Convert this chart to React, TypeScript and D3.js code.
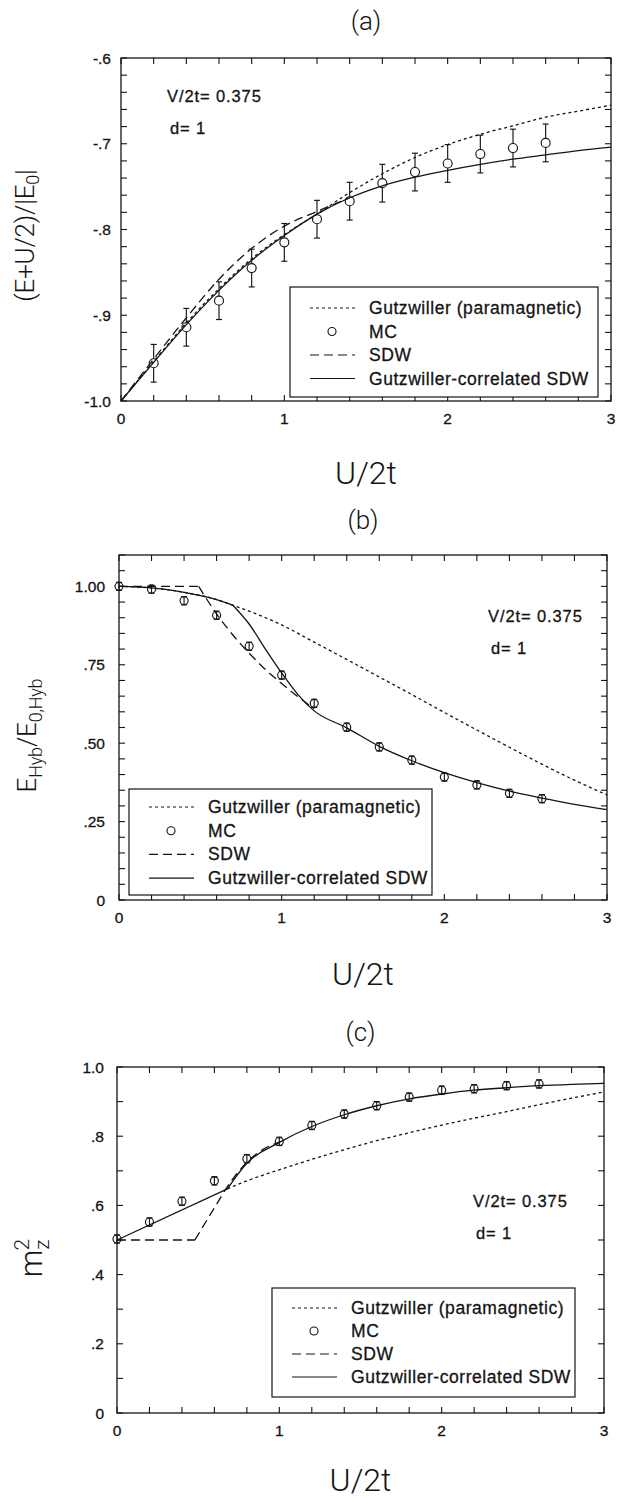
import React from "react";
import * as d3 from "d3";

// ---------------- data ----------------
const xTickValues = [0, 1, 2, 3];
const xTickLabels = ["0", "1", "2", "3"];
const legendLabels = ["Gutzwiller (paramagnetic)", "MC", "SDW", "Gutzwiller-correlated SDW"];
const paramText = "V/2t= 0.375";
const dimText = "d= 1";

// panel (a): (E+U/2)/|E0|
const uA = [0, 0.2, 0.4, 0.6, 0.8, 1.0, 1.2, 1.4, 1.6, 1.8, 2.0, 2.2, 2.4, 2.6, 2.8, 3.0];
const gutzA = [-1.0, -0.954, -0.909, -0.869, -0.834, -0.806, -0.782, -0.757, -0.735, -0.716, -0.701, -0.689, -0.679, -0.669, -0.662, -0.655];
const corrA = [-1.0, -0.955, -0.911, -0.871, -0.836, -0.807, -0.782, -0.763, -0.749, -0.739, -0.731, -0.724, -0.718, -0.713, -0.708, -0.704];
const sdwAU = [0, 0.2, 0.4, 0.6, 0.8, 1.0, 1.2, 1.4];
const sdwA = [-1.0, -0.951, -0.903, -0.858, -0.822, -0.796, -0.779, -0.763];
const mcAU = [0.2, 0.4, 0.6, 0.8, 1.0, 1.2, 1.4, 1.6, 1.8, 2.0, 2.2, 2.4, 2.6];
const mcA = [-0.956, -0.914, -0.883, -0.845, -0.815, -0.788, -0.767, -0.746, -0.733, -0.723, -0.712, -0.705, -0.699];
const mcAErr = [0.022, 0.022, 0.022, 0.022, 0.022, 0.022, 0.022, 0.022, 0.022, 0.022, 0.022, 0.022, 0.022];
const yTicksA = [-1.0, -0.9, -0.8, -0.7, -0.6];
const yLabelsA = ["-1.0", "-.9", "-.8", "-.7", "-.6"];

// panel (b): E_Hyb / E_0,Hyb
const gutzBU = [0, 0.2, 0.4, 0.6, 0.7, 0.8, 1.0, 1.2, 1.4, 1.6, 1.8, 2.0, 2.2, 2.4, 2.6, 2.8, 3.0];
const gutzB = [1.0, 0.995, 0.981, 0.958, 0.94, 0.921, 0.877, 0.822, 0.767, 0.711, 0.655, 0.598, 0.542, 0.487, 0.433, 0.382, 0.335];
const corrBU1 = [0, 0.2, 0.4, 0.6, 0.7];
const corrB1 = [1.0, 0.995, 0.981, 0.958, 0.94];
const corrBU2 = [0.7, 0.8, 0.9, 1.0, 1.1, 1.2, 1.4, 1.6, 1.8, 2.0, 2.2, 2.4, 2.6, 2.8, 3.0];
const corrB2 = [0.94, 0.88, 0.8, 0.724, 0.655, 0.603, 0.549, 0.49, 0.444, 0.406, 0.374, 0.347, 0.325, 0.305, 0.288];
const sdwBU1 = [0, 0.49];
const sdwB1 = [1.0, 1.0];
const sdwBU2 = [0.49, 0.6, 0.7, 0.8, 0.9, 1.0, 1.1, 1.2];
const sdwB2 = [1.0, 0.912, 0.845, 0.787, 0.735, 0.69, 0.648, 0.61];
const mcBU = [0, 0.2, 0.4, 0.6, 0.8, 1.0, 1.2, 1.4, 1.6, 1.8, 2.0, 2.2, 2.4, 2.6];
const mcB = [1.0, 0.991, 0.954, 0.908, 0.809, 0.717, 0.627, 0.551, 0.488, 0.446, 0.392, 0.367, 0.34, 0.323];
const mcBErr = [0.013, 0.013, 0.013, 0.013, 0.013, 0.013, 0.013, 0.013, 0.013, 0.013, 0.013, 0.013, 0.013, 0.013];
const yTicksB = [0, 0.25, 0.5, 0.75, 1.0];
const yLabelsB = ["0", ".25", ".50", ".75", "1.00"];

// panel (c): m_z^2
const corrCU1 = [0, 0.68];
const corrC1 = [0.5, 0.648];
const corrCU2 = [0.68, 0.8, 1.0, 1.2, 1.4, 1.6, 1.8, 2.0, 2.2, 2.4, 2.6, 2.8, 3.0];
const corrC2 = [0.648, 0.722, 0.782, 0.828, 0.862, 0.888, 0.908, 0.922, 0.933, 0.94, 0.946, 0.95, 0.953];
const gutzCU2 = [0.68, 0.8, 1.0, 1.2, 1.4, 1.6, 1.8, 2.0, 2.2, 2.4, 2.6, 2.8, 3.0];
const gutzC2 = [0.648, 0.671, 0.703, 0.733, 0.761, 0.787, 0.81, 0.832, 0.852, 0.871, 0.891, 0.91, 0.928];
const sdwCU1 = [0, 0.48];
const sdwC1 = [0.5, 0.5];
const sdwCU2 = [0.48, 0.6, 0.7, 0.8, 0.9, 1.0];
const sdwC2 = [0.5, 0.593, 0.668, 0.725, 0.762, 0.783];
const mcCU = [0, 0.2, 0.4, 0.6, 0.8, 1.0, 1.2, 1.4, 1.6, 1.8, 2.0, 2.2, 2.4, 2.6];
const mcC = [0.503, 0.552, 0.612, 0.671, 0.735, 0.785, 0.831, 0.864, 0.888, 0.913, 0.933, 0.937, 0.946, 0.951];
const mcCErr = [0.012, 0.012, 0.012, 0.012, 0.012, 0.012, 0.012, 0.012, 0.012, 0.012, 0.012, 0.012, 0.012, 0.012];
const yTicksC = [0, 0.2, 0.4, 0.6, 0.8, 1.0];
const yLabelsC = ["0", ".2", ".4", ".6", ".8", "1.0"];

// ---------------- layout ----------------
const W = 617;
const H = 1498;
const LABEL_FONT = "'Liberation Sans', Arial, Helvetica, sans-serif";
const TITLE_FONT = "Roboto, 'DejaVu Sans', sans-serif";
const INK = "#141414";

type Seg = { u: number[]; v: number[] };
type Series = { kind: "dot" | "dash" | "solid"; segs: Seg[] };

const dashOf = (k: string) => (k === "dot" ? "3,3" : k === "dash" ? "9,5" : undefined);

const labelText = { fontFamily: LABEL_FONT, fill: INK, stroke: INK, strokeWidth: 0.3 } as any;

function Panel(props: any) {
  const { L, yDomain, yStep, yTicks, yLabels, series, mcU, mcV, mcErr, mcR, title, yTitle } = props;
  const x = d3.scaleLinear().domain([0, 3]).range([L.left, L.right]);
  const y = d3.scaleLinear().domain(yDomain).range([L.bottom, L.top]);
  const gen = d3
    .line<[number, number]>()
    .x((d) => x(d[0]))
    .y((d) => y(d[1]))
    .curve(d3.curveMonotoneX);
  const xMinor = d3.range(0, 3.0001, 0.2);
  const yMinor = d3.range(yDomain[0], yDomain[1] + 1e-6, yStep);
  const tl = 6;
  const cx = (L.left + L.right) / 2;

  const legendKinds = ["dot", "mc", "dash", "solid"];

  return (
    <g>
      <text x={cx} y={L.titleY} textAnchor="middle" fontFamily={TITLE_FONT} fontWeight={300} fontSize={26} fill={INK}>
        {title}
      </text>
      <rect x={L.left} y={L.top} width={L.right - L.left} height={L.bottom - L.top} fill="none" stroke={INK} strokeWidth={1.3} />
      {xMinor.map((t, i) => (
        <g key={"xt" + i}>
          <line x1={x(t)} x2={x(t)} y1={L.bottom} y2={L.bottom - tl} stroke={INK} strokeWidth={1.1} />
          <line x1={x(t)} x2={x(t)} y1={L.top} y2={L.top + tl} stroke={INK} strokeWidth={1.1} />
        </g>
      ))}
      {yMinor.map((t, i) => (
        <g key={"yt" + i}>
          <line x1={L.left} x2={L.left + tl} y1={y(t)} y2={y(t)} stroke={INK} strokeWidth={1.1} />
          <line x1={L.right} x2={L.right - tl} y1={y(t)} y2={y(t)} stroke={INK} strokeWidth={1.1} />
        </g>
      ))}
      {xTickValues.map((t, i) => (
        <text key={"xl" + i} x={x(t)} y={L.bottom + 23} textAnchor="middle" fontSize={15.5} {...labelText}>
          {xTickLabels[i]}
        </text>
      ))}
      {yTicks.map((t: number, i: number) => (
        <text key={"yl" + i} x={L.left - L.ylGap} y={y(t) + 5.5} textAnchor="end" fontSize={15.5} {...labelText}>
          {yLabels[i]}
        </text>
      ))}
      <text x={cx} y={L.xTitleY} textAnchor="middle" fontFamily={TITLE_FONT} fontWeight={300} fontSize={32} fill={INK}>
        U/2t
      </text>
      <g transform={`translate(${L.yTitleX},${(L.top + L.bottom) / 2 + L.yTitleShift}) rotate(-90)`}>{yTitle}</g>

      {(series as Series[]).map((s, i) =>
        s.segs.map((sg, j) => (
          <path
            key={"s" + i + "_" + j}
            d={gen(sg.u.map((u, k) => [u, sg.v[k]] as [number, number])) || ""}
            fill="none"
            stroke={INK}
            strokeWidth={1.3}
            strokeDasharray={dashOf(s.kind)}
          />
        ))
      )}

      {mcU.map((u: number, i: number) => {
        const px = x(u);
        const py = y(mcV[i]);
        const y1 = y(mcV[i] + mcErr[i]);
        const y2 = y(mcV[i] - mcErr[i]);
        const cw = 3;
        return (
          <g key={"mc" + i} stroke={INK} strokeWidth={1.15} fill="none">
            <line x1={px} x2={px} y1={y1} y2={py - mcR} />
            <line x1={px} x2={px} y1={py + mcR} y2={y2} />
            {L.innerBar ? <line x1={px} x2={px} y1={py - mcR} y2={py + mcR} /> : null}
            <line x1={px - cw} x2={px + cw} y1={y1} y2={y1} />
            <line x1={px - cw} x2={px + cw} y1={y2} y2={y2} />
            <circle cx={px} cy={py} r={mcR} fill="none" />
          </g>
        );
      })}

      <text x={L.annX} y={L.annY} fontSize={16.5} letterSpacing={0.9} {...labelText}>
        {paramText}
      </text>
      <text x={L.annX + 3} y={L.annY + 32} fontSize={16.5} letterSpacing={0.9} {...labelText}>
        {dimText}
      </text>

      <rect x={L.lgX} y={L.lgY} width={L.lgW} height={L.lgH} fill="white" stroke={INK} strokeWidth={1.2} />
      {legendLabels.map((lab, i) => {
        const ry = L.lgY + L.lgRow0 + i * L.lgDy;
        const sx = L.lgX + 20;
        const kind = legendKinds[i];
        return (
          <g key={"lg" + i}>
            {kind === "mc" ? (
              <circle cx={sx + 22} cy={ry} r={4} fill="none" stroke={INK} strokeWidth={1.1} />
            ) : (
              <line x1={sx} x2={sx + 45} y1={ry} y2={ry} stroke={INK} strokeWidth={1.2} strokeDasharray={dashOf(kind)} />
            )}
            <text x={L.lgX + 79} y={ry + 6} fontSize={17.5} letterSpacing={0.55} {...labelText}>
              {lab}
            </text>
          </g>
        );
      })}
    </g>
  );
}

const zip = (u: number[], v: number[]): Seg => ({ u, v });

export default function App() {
  const LA = {
    left: 121, right: 611, top: 58, bottom: 401, titleY: 30, xTitleY: 484, yTitleX: 34, yTitleShift: 6, ylGap: 10,
    annX: 167, annY: 102, lgX: 290, lgY: 287, lgW: 308, lgH: 110, lgRow0: 21, lgDy: 23.5, innerBar: false,
  };
  const LB = {
    left: 119, right: 607, top: 555, bottom: 900, titleY: 529, xTitleY: 985, yTitleX: 36, yTitleShift: 8, ylGap: 14,
    annX: 488, annY: 622, lgX: 129, lgY: 789, lgW: 303, lgH: 106, lgRow0: 18, lgDy: 23.7, innerBar: true,
  };
  const LC = {
    left: 117, right: 604, top: 1067, bottom: 1413, titleY: 1041, xTitleY: 1491, yTitleX: 42, yTitleShift: 18, ylGap: 13,
    annX: 473, annY: 1207, lgX: 272, lgY: 1288, lgW: 303, lgH: 109, lgRow0: 20, lgDy: 23,
    innerBar: true,
  };

  const seriesA: Series[] = [
    { kind: "dot", segs: [zip(uA, gutzA)] },
    { kind: "dash", segs: [zip(sdwAU, sdwA)] },
    { kind: "solid", segs: [zip(uA, corrA)] },
  ];
  const seriesB: Series[] = [
    { kind: "dot", segs: [zip(gutzBU, gutzB)] },
    { kind: "dash", segs: [zip(sdwBU1, sdwB1), zip(sdwBU2, sdwB2)] },
    { kind: "solid", segs: [zip(corrBU1, corrB1), zip(corrBU2, corrB2)] },
  ];
  const seriesC: Series[] = [
    { kind: "dot", segs: [zip(gutzCU2, gutzC2)] },
    { kind: "dash", segs: [zip(sdwCU1, sdwC1), zip(sdwCU2, sdwC2)] },
    { kind: "solid", segs: [zip(corrCU1, corrC1), zip(corrCU2, corrC2)] },
  ];

  const tStyle = { fontFamily: TITLE_FONT, fontWeight: 300, fill: INK } as any;

  const yTitleA = (
    <text textAnchor="middle" fontSize={26} letterSpacing={-0.2} {...tStyle}>
      (E+U/2)/|E<tspan fontSize={18} dy={5}>0</tspan>
      <tspan dy={-5}>|</tspan>
    </text>
  );
  const yTitleB = (
    <text textAnchor="middle" fontSize={26} letterSpacing={-0.2} {...tStyle}>
      E<tspan fontSize={18} dy={6}>Hyb</tspan>
      <tspan dy={-6}>/E</tspan>
      <tspan fontSize={18} dy={6}>0,Hyb</tspan>
    </text>
  );
  const yTitleC = (
    <text textAnchor="middle" fontSize={31} {...tStyle}>
      m<tspan fontSize={21} dy={7}>z</tspan>
      <tspan fontSize={21} dx={-11} dy={-20}>2</tspan>
    </text>
  );

  return (
    <svg width={W} height={H} viewBox={`0 0 ${W} ${H}`} style={{ position: "absolute", left: 0, top: 0, background: "white" }}>
      <rect x={0} y={0} width={W} height={H} fill="white" />
      <Panel L={LA} yDomain={[-1.0, -0.6]} yStep={0.02} yTicks={yTicksA} yLabels={yLabelsA} series={seriesA}
        mcU={mcAU} mcV={mcA} mcErr={mcAErr} mcR={4.5} title="(a)" yTitle={yTitleA} />
      <Panel L={LB} yDomain={[0, 1.1]} yStep={0.05} yTicks={yTicksB} yLabels={yLabelsB} series={seriesB}
        mcU={mcBU} mcV={mcB} mcErr={mcBErr} mcR={4} title="(b)" yTitle={yTitleB} />
      <Panel L={LC} yDomain={[0, 1.0]} yStep={0.1} yTicks={yTicksC} yLabels={yLabelsC} series={seriesC}
        mcU={mcCU} mcV={mcC} mcErr={mcCErr} mcR={4} title="(c)" yTitle={yTitleC} />
    </svg>
  );
}
